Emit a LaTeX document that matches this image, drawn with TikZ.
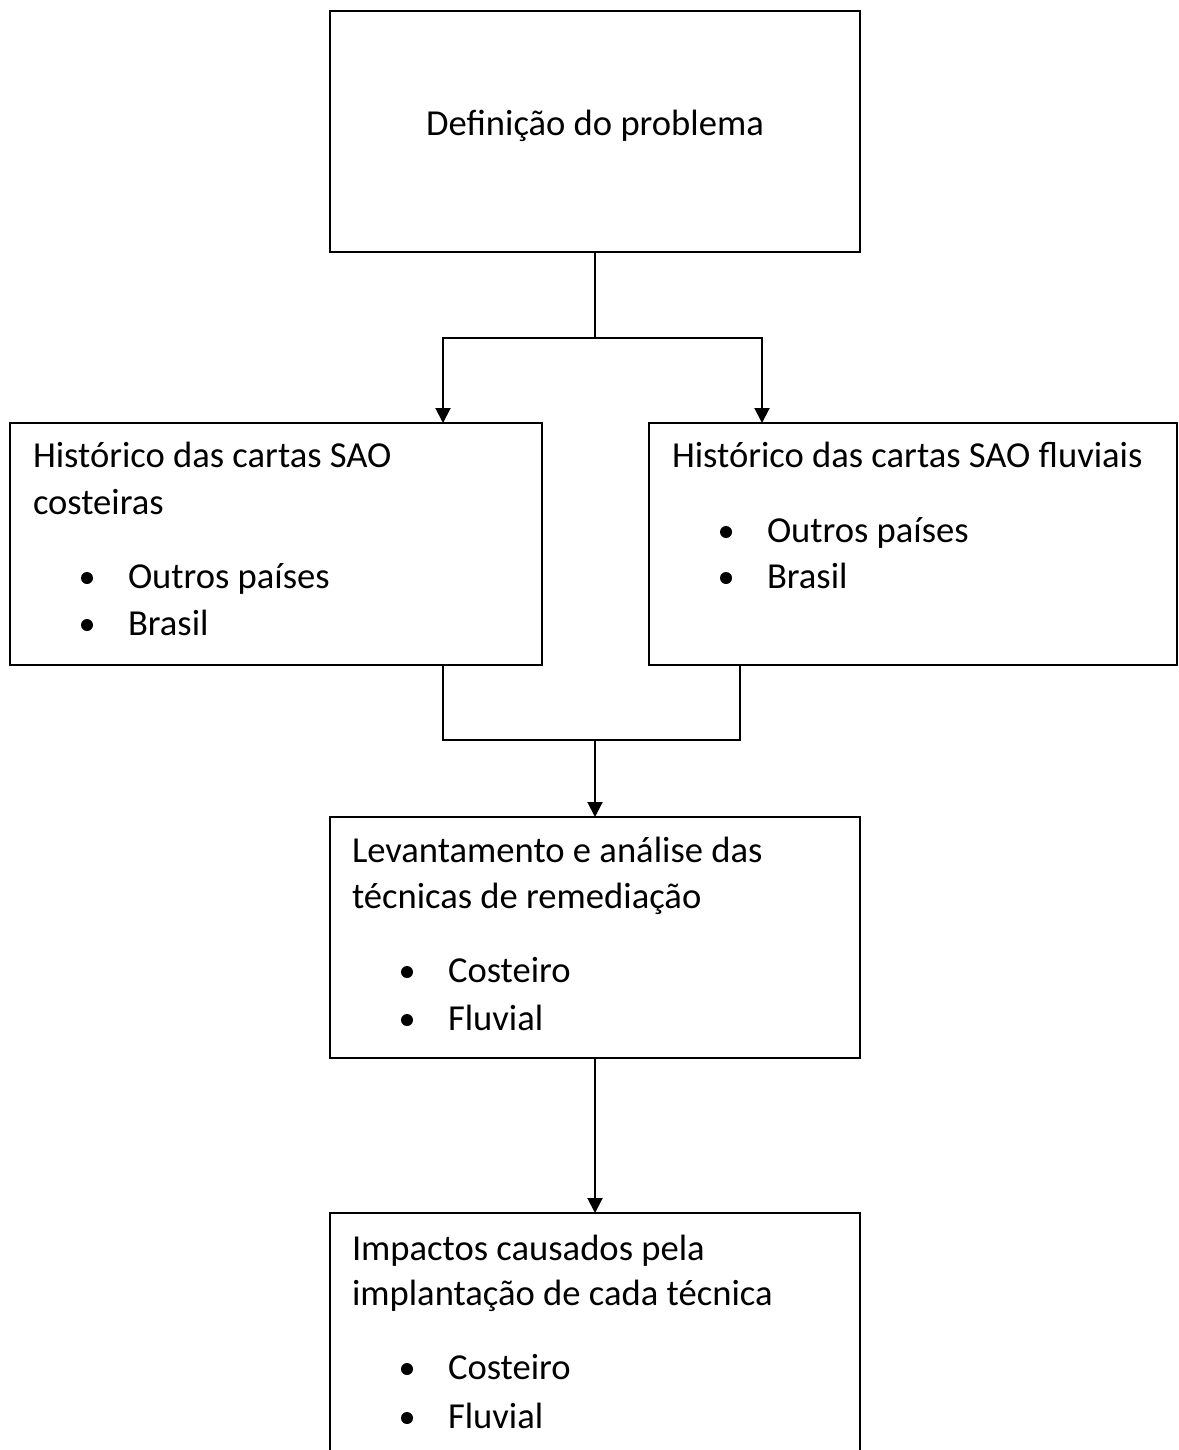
\documentclass[tikz,border=0pt]{standalone}
\usepackage{fontspec}
\setmainfont{Carlito}
\usetikzlibrary{arrows.meta,calc}
\begin{document}
\begin{tikzpicture}[x=1pt,y=-1pt,
  box/.style={draw=black,line width=2pt,rectangle,inner sep=0pt,outer sep=0pt,anchor=north west},
  txt/.style={anchor=base west,inner sep=0pt,outer sep=0pt,font=\fontsize{36.6}{45}\selectfont},
  ctxt/.style={anchor=base,inner sep=0pt,outer sep=0pt,font=\fontsize{36.6}{45}\selectfont},
  conn/.style={line width=2pt,draw=black},
  arr/.style={conn,-{Triangle[width=15pt,length=15pt]}},
  dot/.style={circle,fill=black,inner sep=0pt,outer sep=0pt,minimum size=12pt}
]
\useasboundingbox (0,0) rectangle (1178,1450);
\fill[white] (0,0) rectangle (1178,1450);

% boxes
\node[box,minimum width=530pt,minimum height=241pt] (b1) at (330,11) {};
\node[box,minimum width=532pt,minimum height=242pt] (b2) at (10,423) {};
\node[box,minimum width=528pt,minimum height=242pt] (b3) at (649,423) {};
\node[box,minimum width=530pt,minimum height=241pt] (b4) at (330,817) {};
\node[box,minimum width=530pt,minimum height=260pt] (b5) at (330,1213) {};

% texts box 1
\node[ctxt] (t1) at (595,136) {Definição do problema};

% texts box 2
\node[txt] (t2a) at (33,467) {Histórico das cartas SAO};
\node[txt] (t2b) at (33,514) {costeiras};
\node[dot] (d2a) at (87,578) {};
\node[txt] (t2c) at (128,588) {Outros países};
\node[dot] (d2b) at (87,625) {};
\node[txt] (t2d) at (128,635) {Brasil};

% texts box 3
\node[txt] (t3a) at (672,467) {Histórico das cartas SAO fluviais};
\node[dot] (d3a) at (726,532) {};
\node[txt] (t3b) at (767,542) {Outros países};
\node[dot] (d3b) at (726,578) {};
\node[txt] (t3c) at (767,588) {Brasil};

% texts box 4
\node[txt] (t4a) at (352,862) {Levantamento e análise das};
\node[txt] (t4b) at (352,908) {técnicas de remediação};
\node[dot] (d4a) at (407,972) {};
\node[txt] (t4c) at (448,982) {Costeiro};
\node[dot] (d4b) at (407,1020) {};
\node[txt] (t4d) at (448,1030) {Fluvial};

% texts box 5
\node[txt] (t5a) at (352,1260) {Impactos causados pela};
\node[txt] (t5b) at (352,1305) {implantação de cada técnica};
\node[dot] (d5a) at (407,1369) {};
\node[txt] (t5c) at (448,1379) {Costeiro};
\node[dot] (d5b) at (407,1418) {};
\node[txt] (t5d) at (448,1428) {Fluvial};

% connectors
\coordinate (split) at (595,338);
\coordinate (in2) at (443,423);
\coordinate (in3) at (762,423);
\coordinate (out2) at (443,665);
\coordinate (out3) at (740,665);
\coordinate (joinL) at (443,740);
\coordinate (joinR) at (740,740);
\coordinate (join) at (595,740);

\draw[conn] (b1.south) -- (split);
\draw[arr] (split) -| (in2);
\draw[arr] (split) -| (in3);
\draw[conn] (out2) -- (joinL) -- (joinR) -- (out3);
\draw[arr] (join) -- (b4.north);
\draw[arr] (b4.south) -- (b5.north);
\end{tikzpicture}
\end{document}
